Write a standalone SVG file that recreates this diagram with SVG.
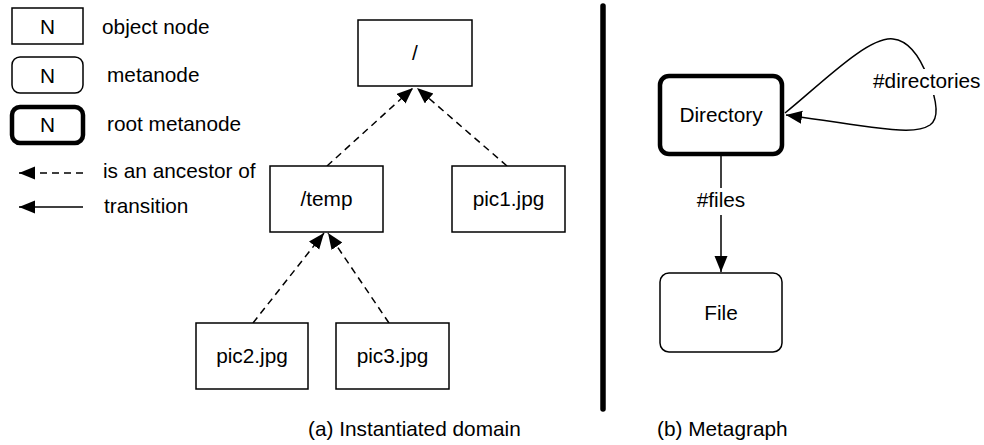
<svg xmlns="http://www.w3.org/2000/svg" width="984" height="445" viewBox="0 0 984 445">
<style>
text{font-family:"Liberation Sans",Arial,Helvetica,sans-serif;font-size:20.8px;fill:#000}
.c{text-anchor:middle}
.obj{fill:#fff;stroke:#000;stroke-width:1.5}
.meta{fill:#fff;stroke:#000;stroke-width:1.5}
.root{fill:#fff;stroke:#000;stroke-width:4.5}
.dash{fill:none;stroke:#000;stroke-width:1.5;stroke-dasharray:7 5}
.solid{fill:none;stroke:#000;stroke-width:1.5}
</style>
<defs>
<marker id="ah" markerUnits="userSpaceOnUse" markerWidth="17" markerHeight="14" refX="16" refY="6.5" orient="auto">
<path d="M0,0 L16,6.5 L0,13 z" fill="#000"/>
</marker>
</defs>
<rect width="984" height="445" fill="#fff"/>
<g id="legend">
<rect class="obj" x="12" y="8" width="71" height="36"/>
<text class="c" x="47.5" y="33.5">N</text>
<text x="102" y="34">object node</text>
<rect class="meta" x="12" y="57" width="71" height="36" rx="8"/>
<text class="c" x="47.5" y="82.5">N</text>
<text x="107" y="82">metanode</text>
<rect class="root" x="12" y="107" width="71" height="36" rx="8"/>
<text class="c" x="47.5" y="132">N</text>
<text x="107" y="131">root metanode</text>
<line class="dash" x1="83" y1="173" x2="19" y2="173" marker-end="url(#ah)"/>
<text x="103" y="178">is an ancestor of</text>
<line class="solid" x1="83" y1="207" x2="19" y2="207" marker-end="url(#ah)"/>
<text x="104" y="213">transition</text>
</g>
<g id="connectors">
<line class="dash" x1="327" y1="166" x2="413" y2="88" marker-end="url(#ah)"/>
<line class="dash" x1="507" y1="166" x2="417" y2="88" marker-end="url(#ah)"/>
<line class="dash" x1="253" y1="323" x2="324" y2="233" marker-end="url(#ah)"/>
<line class="dash" x1="389" y1="323" x2="328" y2="233" marker-end="url(#ah)"/>
<line class="solid" x1="721" y1="156" x2="721" y2="272" marker-end="url(#ah)"/>
<rect x="690" y="188" width="62" height="27" fill="#fff"/>
<text class="c" x="721" y="207">#files</text>
<path class="solid" d="M785,113 C820,85 868,36 893,39 C912,41 922,62 928,78 C936,98 940,118 930,125 C918,133 895,130 870,127 C840,123 815,119 786,115" marker-end="url(#ah)"/>
<rect x="871" y="69" width="110" height="26" fill="#fff"/>
<text x="873" y="88">#directories</text>
</g>
<line x1="603" y1="6" x2="603" y2="409" stroke="#000" stroke-width="5.5" stroke-linecap="round"/>
<g id="n-root">
<rect class="obj" x="358" y="20" width="114" height="66"/>
<text class="c" x="415" y="60">/</text>
</g>
<g id="n-temp">
<rect class="obj" x="270" y="166" width="113" height="66"/>
<text class="c" x="326.5" y="206">/temp</text>
</g>
<g id="n-pic1">
<rect class="obj" x="452" y="166" width="113" height="66"/>
<text class="c" x="508.5" y="206">pic1.jpg</text>
</g>
<g id="n-pic2">
<rect class="obj" x="196" y="323" width="112" height="66"/>
<text class="c" x="252" y="363">pic2.jpg</text>
</g>
<g id="n-pic3">
<rect class="obj" x="336" y="323" width="113" height="66"/>
<text class="c" x="392.5" y="363">pic3.jpg</text>
</g>
<g id="n-directory">
<rect class="root" x="660" y="76" width="122" height="78" rx="9"/>
<text class="c" x="721" y="122">Directory</text>
</g>
<g id="n-file">
<rect class="meta" x="660" y="273" width="122" height="79" rx="9"/>
<text class="c" x="721" y="320">File</text>
</g>
<g id="captions">
<text x="308" y="436">(a) Instantiated domain</text>
<text x="657" y="436">(b) Metagraph</text>
</g>
</svg>
